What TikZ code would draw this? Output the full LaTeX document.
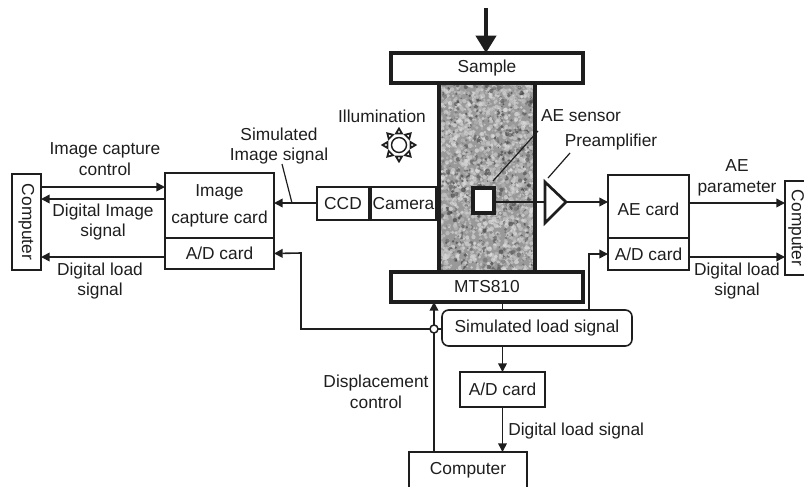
\documentclass[tikz,border=0pt]{standalone}
\usepackage{fontspec}
\setmainfont{Liberation Sans}
\usetikzlibrary{arrows.meta,calc}
\definecolor{ink}{HTML}{1E1E1E}
\tikzset{
  box/.style 2 args={draw=ink,line width=1.2pt,fill=white,rectangle,minimum width=#1*0.75pt,minimum height=#2*0.75pt,inner sep=0pt,outer sep=0pt,align=center,text=ink},
  heavybox/.style 2 args={box={#1}{#2},line width=2.3pt},
  lab/.style={inner sep=0pt,align=center,text=ink},
  arr/.style={draw=ink,line width=1.2pt,-{Triangle[length=6.5pt,width=6.5pt]}},
  wire/.style={draw=ink,line width=1.1pt},
  leader/.style={draw=ink,line width=.9pt},
  every node/.append style={font=\fontsize{13}{15.4}\selectfont}
}
\begin{document}
\begin{tikzpicture}[x=0.75pt,y=-0.75pt]
\useasboundingbox (0,0) rectangle (804,486);
\clip (0,0) rectangle (804,486);
% speckled specimen
\fill[black!40] (439,82) rectangle (535,272);
\begin{scope}
\clip (439,82) rectangle (535,272);
\pgfmathsetseed{4217}
\foreach \i in {1,...,2400}{
  \pgfmathsetmacro{\xa}{439+96*rnd}
  \pgfmathsetmacro{\ya}{82+190*rnd}
  \pgfmathsetmacro{\ra}{0.9+1.5*rnd}
  \pgfmathsetmacro{\ga}{100*rnd}
  \pgfmathsetmacro{\sh}{\ga<78 ? 8+22*rnd : 55+25*rnd}
  \fill[black!\sh!white,opacity=.6] (\xa,\ya) circle[radius=\ra];
}
\end{scope}
\node[heavybox={96}{190},fill=none] (spec) at (487,177) {};
% sample and frame
\node[heavybox={192}{30}] (sample) at (487,68) {Sample};
\node[heavybox={192}{30}] (mts) at (487,287) {MTS810};
\coordinate (load) at (486,8);
\draw[draw=ink,line width=3pt,-{Triangle[length=13pt,width=15pt]}] (load) -- (load |- sample.north);
% illumination
\coordinate (sun) at (399,145);
\foreach \a in {0,45,...,315}{
  \draw[ink,line width=1.3pt,fill=white,line join=miter,rotate around={\a:(sun)}] ($(sun)+(11.5,-3)$) -- ($(sun)+(16.5,0)$) -- ($(sun)+(11.5,3)$) -- cycle;
}
\draw[ink,line width=1.1pt] (sun) circle[radius=7.5];
\node[lab] (illum) at (382,116) {Illumination};
% camera
\node[box={52}{33}] (ccd) at (343,203.5) {CCD};
\node[box={65}{33}] (cam) at (403.5,203.5) {Camera};
% sensor, preamplifier
\node[heavybox={21}{25}] (sensor) at (483.5,200.5) {};
\coordinate (pa) at (545,202);
\draw[wire] (sensor.east |- pa) -- (pa);
\draw[ink,line width=2pt,fill=white,line join=miter] (545,182) -- (566,202) -- (545,223) -- cycle;
\coordinate (pb) at (566,202);
\node[lab] (aes) at (581,116) {AE sensor};
\node[lab] (pre) at (611,142) {Preamplifier};
\coordinate (aelead) at (538,131);
\coordinate (prelead) at (570,153);
\draw[leader] (493,181) -- (aelead);
\draw[leader] (548,178) -- (prelead);
% left computer and cards
\node[box={96}{29},rotate=-90] (compL) at (26.5,222) {Computer};
\node[box={109}{65}] (icc) at (219.5,205.5) {Image\\[5pt]capture card};
\node[box={109}{31}] (adL) at (219.5,253.5) {A/D card};
\draw[arr] (compL.north |- 0,187) -- (icc.west |- 0,187);
\draw[arr] (icc.west |- 0,199) -- (compL.north |- 0,199);
\draw[arr] (adL.west |- 0,257) -- (compL.north |- 0,257);
\node[lab] at (105,159) {Image capture\\control};
\node[lab] at (103,222) {Digital Image\\signal};
\node[lab] at (100,281) {Digital load\\signal};
% simulated image signal
\draw[arr] (ccd.west |- 0,203) -- (icc.east |- 0,203);
\node[lab] (simi) at (279,146) {Simulated\\Image signal};
\coordinate (simlead) at (282,164);
\draw[leader] (simlead) -- (292,203);
% right side
\node[box={81}{63}] (ae) at (648.5,206.5) {\raisebox{-14pt}{AE card}};
\node[box={81}{32}] (adR) at (648.5,254) {A/D card};
\node[box={94}{22},rotate=-90] (compR) at (796,228) {Computer};
\draw[arr] (pb) -- (ae.west |- pb);
\draw[arr] (ae.east |- 0,203) -- (compR.south |- 0,203);
\draw[arr] (adR.east |- 0,257) -- (compR.south |- 0,257);
\node[lab] at (737,178) {AE\\parameter};
\node[lab] at (737,281) {Digital load\\signal};
% simulated load signal
\node[box={190}{36},rounded corners=5pt] (sim) at (537,328) {Simulated load signal};
\node[box={85}{35}] (adB) at (502.5,389.5) {A/D card};
\node[box={118}{36}] (compB) at (468,470) {Computer};
\node[circle,draw=ink,line width=1.1pt,fill=white,minimum size=6pt,inner sep=0pt,outer sep=0pt] (junc) at (434,329) {};
\draw[wire] (mts.south -| adB.north) -- (sim.north -| adB.north);
\draw[arr] (sim.south -| adB.north) -- (adB.north);
\draw[arr] (adB.south) -- (adB.south |- compB.north);
\node[lab,anchor=west] at (508,431) {Digital load signal};
\draw[wire] (compB.north -| junc) -- (junc.south);
\draw[arr] (junc.north) -- (junc |- mts.south);
\draw[wire] (junc.east) -- (junc.east -| sim.west);
\node[lab] at (376,392) {Displacement\\control};
\draw[arr] (junc.west) -| (301,253) -- (adL.east);
\coordinate (adRturn) at (589,254);
\draw[arr] (sim.north -| adRturn) -- (adRturn) -- (adR.west);
\end{tikzpicture}
\end{document}
